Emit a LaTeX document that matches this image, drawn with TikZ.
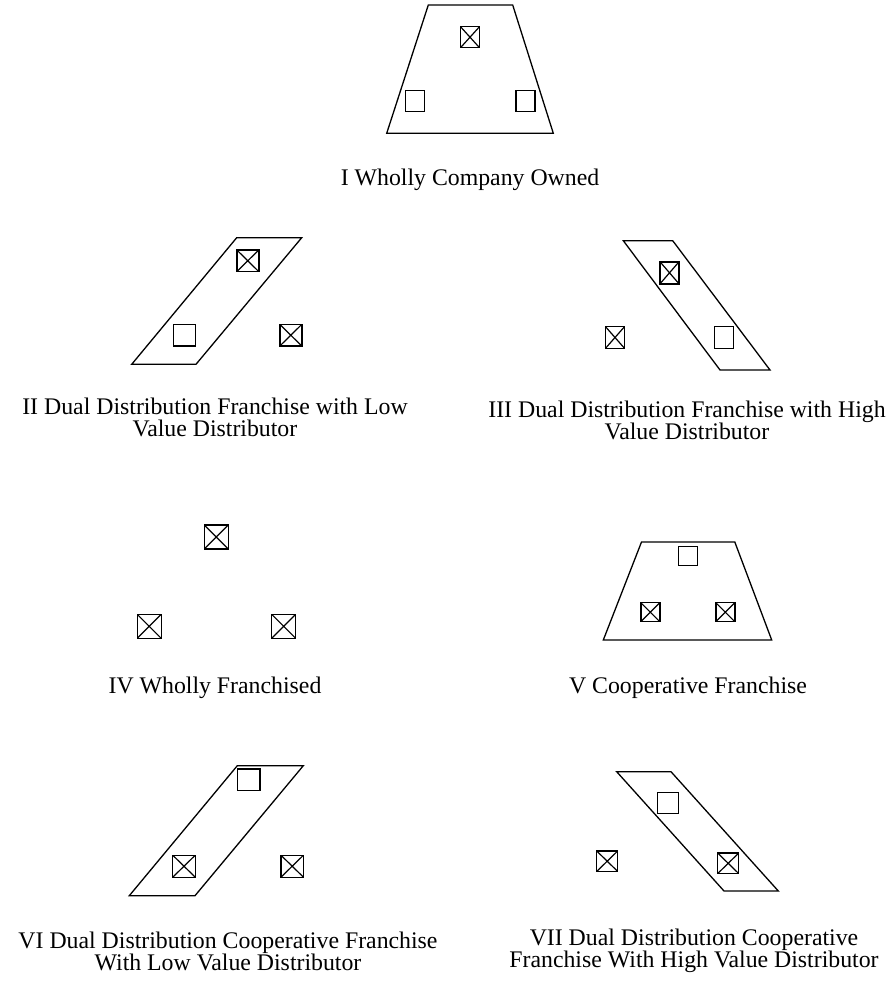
\documentclass[tikz,border=0pt]{standalone}
\usepackage{fontspec}
\setmainfont{Liberation Serif}
\begin{document}
\begin{tikzpicture}[x=1pt,y=-1pt,
  shapeline/.style={draw=black,line width=1.3pt,line join=miter},
  sq/.style={draw=black,line width=1.4pt,inner sep=0pt,outer sep=0pt,rectangle},
  xsq/.style={sq,path picture={\draw[line width=1.2pt] (path picture bounding box.north west) -- (path picture bounding box.south east) (path picture bounding box.north east) -- (path picture bounding box.south west);}},
  lbl/.style={align=center,font=\fontsize{23.8}{22}\selectfont,inner sep=0pt}]
\useasboundingbox (0,0) rectangle (889,982);
% I
\draw[shapeline] (428.3,5) -- (512.7,5) -- (553.3,133.3) -- (386.7,133.3) -- cycle;
\node[xsq,minimum width=19pt,minimum height=21pt] (i1) at (470,37.2) {};
\node[sq,minimum width=19pt,minimum height=21pt] (i2) at (414.7,100.8) {};
\node[sq,minimum width=19pt,minimum height=21pt] (i3) at (525.5,100.8) {};
\node[lbl] (li) at (470,180) {I Wholly Company Owned};
% II
\draw[shapeline] (236.7,237.7) -- (301.7,237.7) -- (196,364.3) -- (131.7,364.3) -- cycle;
\node[xsq,minimum width=22pt,minimum height=21.7pt] (ii1) at (247.8,260.8) {};
\node[sq,minimum width=22pt,minimum height=21.7pt] (ii2) at (184.5,335.2) {};
\node[xsq,minimum width=22pt,minimum height=21.7pt] (ii3) at (290.8,335.2) {};
\node[lbl] (lii) at (215,417) {II Dual Distribution Franchise with Low\\Value Distributor};
% III
\draw[shapeline] (623.3,240.7) -- (672.7,240.7) -- (770,370) -- (720,370) -- cycle;
\node[xsq,minimum width=19pt,minimum height=22pt] (iii1) at (669.5,272.8) {};
\node[sq,minimum width=19pt,minimum height=21.6pt] (iii2) at (724.2,337.5) {};
\node[xsq,minimum width=19pt,minimum height=21.6pt] (iii3) at (615,337.5) {};
\node[lbl] (liii) at (687,420) {III Dual Distribution Franchise with High\\Value Distributor};
% IV
\node[xsq,minimum width=24pt,minimum height=24pt] (iv1) at (216.3,537) {};
\node[xsq,minimum width=24pt,minimum height=24pt] (iv2) at (149.2,626.3) {};
\node[xsq,minimum width=24pt,minimum height=24pt] (iv3) at (283.7,626.3) {};
\node[lbl] (liv) at (215,688) {IV Wholly Franchised};
% V
\draw[shapeline] (641.5,542) -- (734.8,542) -- (771.7,640) -- (603.3,640) -- cycle;
\node[sq,minimum width=19pt,minimum height=19pt] (v1) at (687.8,556.2) {};
\node[xsq,minimum width=19pt,minimum height=19pt] (v2) at (650.3,612.2) {};
\node[xsq,minimum width=19pt,minimum height=19pt] (v3) at (725.3,612.2) {};
\node[lbl] (lv) at (688,688) {V Cooperative Franchise};
% VI
\draw[shapeline] (237.3,765.7) -- (303.3,765.7) -- (195,895.7) -- (129.3,895.7) -- cycle;
\node[sq,minimum width=22.5pt,minimum height=21.7pt] (vi1) at (248.7,779.8) {};
\node[xsq,minimum width=22.5pt,minimum height=22pt] (vi2) at (184,866.2) {};
\node[xsq,minimum width=22.5pt,minimum height=22pt] (vi3) at (292.2,866.2) {};
\node[lbl] (lvi) at (228,951) {VI Dual Distribution Cooperative Franchise\\With Low Value Distributor};
% VII
\draw[shapeline] (616.7,771.7) -- (671,771.7) -- (778.3,891) -- (724,891) -- cycle;
\node[sq,minimum width=21pt,minimum height=20.6pt] (vii1) at (667.8,803) {};
\node[xsq,minimum width=21pt,minimum height=20.5pt] (vii2) at (728.2,863.3) {};
\node[xsq,minimum width=21pt,minimum height=20.5pt] (vii3) at (607.2,861.2) {};
\node[lbl] (lvii) at (694,951) {VII Dual Distribution Cooperative\\Franchise With High Value Distributor};
\end{tikzpicture}
\end{document}
